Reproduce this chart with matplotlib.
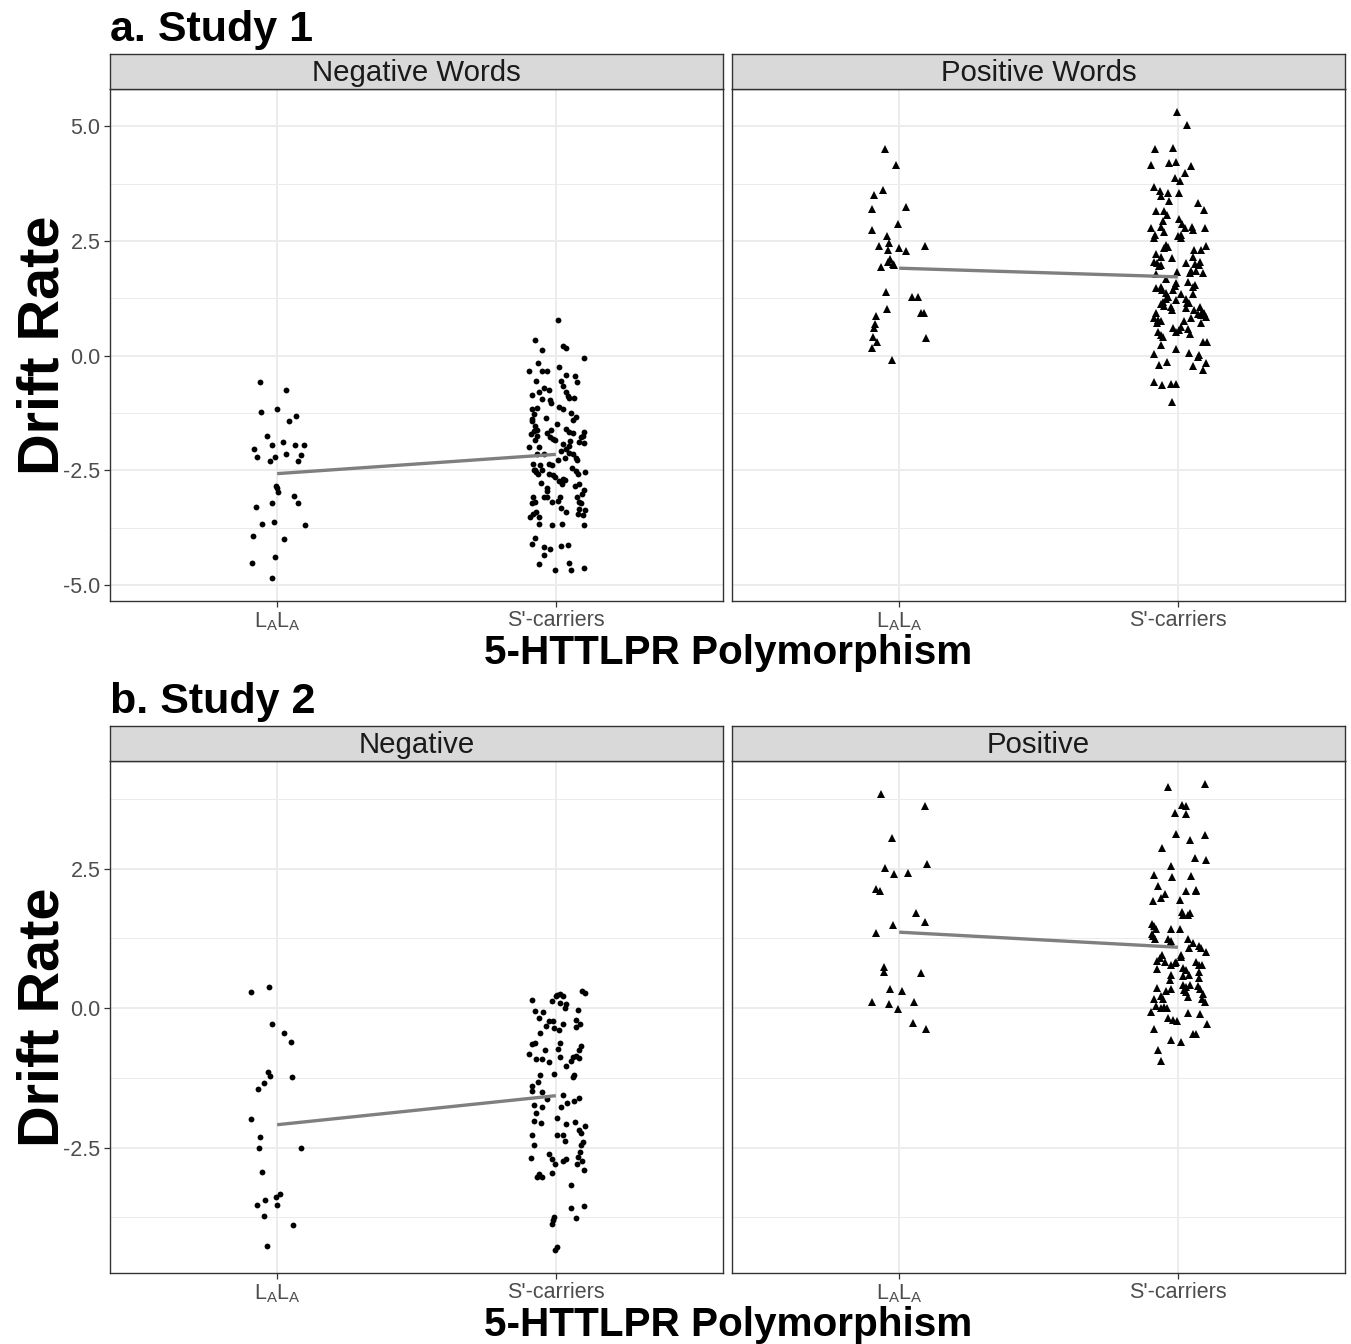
import matplotlib
matplotlib.use("Agg")
import matplotlib.pyplot as plt
import numpy as np

plt.rcParams['font.family'] = ['Liberation Sans', 'DejaVu Sans']
plt.rcParams['mathtext.fontset'] = 'custom'
plt.rcParams['mathtext.rm'] = 'Liberation Sans'
plt.rcParams['mathtext.it'] = 'Liberation Sans'

# ---------------- data ----------------
categories = [r'$\mathrm{L_AL_A}$', "S'-carriers"]
study_titles = ["a. Study 1", "b. Study 2"]
facet_labels = [["Negative Words", "Positive Words"], ["Negative", "Positive"]]
x_title = "5-HTTLPR Polymorphism"
y_title = "Drift Rate"
y_ticks_s1 = [-5.0, -2.5, 0.0, 2.5, 5.0]
y_ticks_s2 = [-2.5, 0.0, 2.5]

# Study 1, negative words
s1_neg_la_y = [-0.57, -0.75, -1.23, -1.15, -1.31, -1.42, -1.76, -1.95, -1.88, -1.94, -1.95, -2.04, -2.20,
               -2.20, -2.15, -2.17, -2.30, -2.30, -2.83, -2.89, -2.98, -3.06, -3.20, -3.21, -3.30, -3.66,
               -3.62, -3.68, -3.93, -3.99, -4.39, -4.51, -4.84]
s1_neg_la_jit = [-0.062, 0.033, -0.059, 0.000, 0.067, 0.044, -0.036, -0.017, 0.021, 0.064, 0.096, -0.083,
                 -0.074, -0.007, 0.031, 0.084, -0.024, 0.073, -0.006, 0.001, 0.004, 0.061, -0.017, 0.076,
                 -0.077, -0.055, -0.011, 0.100, -0.087, 0.025, -0.008, -0.092, -0.018]
s1_neg_s_y = [0.77, 0.35, 0.12, 0.21, 0.16, -0.04, -0.16, -0.33, -0.33, -0.33, -0.24, -0.43, -0.45, -0.57,
              -0.55, -0.56, -0.65, -0.70, -0.74, -0.80, -0.86, -0.78, -0.87, -0.92, -0.93, -0.94, -0.96,
              -1.03, -1.12, -1.15, -1.15, -1.13, -1.25, -1.33, -1.39, -1.28, -1.37, -1.43, -1.35, -1.49,
              -1.54, -1.62, -1.65, -1.62, -1.59, -1.67, -1.68, -1.67, -1.74, -1.78, -1.70, -1.74, -1.83,
              -1.68, -1.78, -1.81, -1.84, -1.92, -1.97, -1.86, -1.88, -1.90, -1.99, -1.99,
              -2.08, -2.04, -2.12, -2.15, -2.22, -2.28, -2.15, -2.15, -2.22, -2.28, -2.35, -2.38, -2.35,
              -2.38, -2.44, -2.51, -2.58, -2.54, -2.50, -2.53, -2.58, -2.48, -2.49, -2.57, -2.61, -2.65,
              -2.73, -2.68, -2.70, -2.80, -2.77, -2.88, -2.95, -2.83, -2.80, -2.93, -3.02, -3.09, -3.07,
              -3.07, -3.22, -3.18, -3.18, -3.17, -3.07, -3.07, -3.19, -3.22, -3.33, -3.40, -3.35, -3.36,
              -3.46, -3.48, -3.41, -3.46, -3.51, -3.51, -3.67, -3.70, -3.67, -3.68, -3.97, -4.11, -4.18,
              -4.22, -4.35, -4.15, -4.13, -4.53, -4.52, -4.67, -4.63, -4.67]
s1_neg_s_jit = [0.008, -0.073, -0.049, 0.026, 0.038, 0.100, -0.064, -0.095, -0.048, -0.032, 0.011, 0.036,
                0.068, 0.077, -0.072, 0.018, 0.026, -0.042, -0.024, -0.062, -0.087, 0.036, 0.042, 0.046,
                0.064, -0.048, -0.021, -0.018, 0.010, 0.024, -0.084, -0.066, 0.056, 0.074, 0.060, -0.078,
                -0.084, -0.086, -0.036, 0.004, -0.074, -0.069, -0.080, -0.018, 0.036, 0.046, 0.062, 0.102,
                0.098, 0.091, -0.090, -0.066, -0.074, -0.033, -0.021, -0.010, -0.003, 0.026, 0.046, 0.050,
                0.083, 0.101, -0.095, -0.060,
                0.019, 0.038, 0.048, 0.062, 0.072, 0.077, -0.066, -0.044, 0.033, 0.008, -0.082, -0.056,
                -0.026, -0.014, 0.058, 0.072, 0.080, 0.104, -0.080, -0.072, -0.065, -0.074, -0.048, -0.024,
                -0.010, -0.004, 0.012, 0.024, 0.033, 0.022, -0.053, -0.032, -0.030, 0.069, 0.084, 0.102,
                0.094, -0.044, -0.032, -0.082, -0.087, -0.074, -0.014, 0.008, 0.015, 0.076, 0.082, 0.091,
                0.019, 0.038, 0.084, 0.104, 0.078, 0.098, -0.072, -0.082, -0.092, -0.060, -0.061, -0.015,
                0.022, 0.101, -0.074, -0.087, -0.044, -0.022, -0.042, 0.018, 0.042, -0.060, 0.048, 0.054,
                0.102, -0.004]

# Study 1, positive words
s1_pos_la_y = [4.50, 4.15, 3.62, 3.51, 3.21, 3.25, 2.88, 2.75, 2.61, 2.47, 2.40, 2.36, 2.40, 2.30, 2.28,
               2.11, 2.04, 2.01, 1.98, 1.93, 1.40, 1.28, 1.29, 1.03, 0.93, 0.93, 0.87, 0.69, 0.60, 0.42,
               0.29, 0.39, 0.18, -0.09]
s1_pos_la_jit = [-0.050, -0.012, -0.059, -0.089, -0.096, 0.025, -0.005, -0.098, -0.042, -0.038, -0.074,
                 0.000, 0.091, -0.040, 0.026, -0.032, -0.040, -0.023, -0.017, -0.066, -0.049, 0.047, 0.069,
                 -0.044, 0.078, 0.090, -0.084, -0.086, -0.092, -0.095, -0.078, 0.096, -0.098, -0.025]
s1_pos_s_y = [5.31, 5.04, 4.50, 4.54, 4.17, 4.21, 4.22, 4.14, 3.99, 3.88, 3.81, 3.69, 3.59, 3.48, 3.56,
              3.54, 3.38, 3.34, 3.17, 3.15, 3.16, 3.08, 2.99, 2.94, 2.87, 2.78, 2.80, 2.78, 2.70, 2.81,
              2.74, 2.78, 2.63, 2.57, 2.61, 2.64, 2.56, 2.41, 2.38, 2.34, 2.40, 2.30, 2.30, 2.21, 2.16,
              2.13, 2.15,
              2.05, 2.03, 1.98, 1.96, 2.03, 2.01, 2.05, 1.98, 1.85, 1.80, 1.85, 1.80, 1.83, 1.78, 1.67,
              1.59, 1.52, 1.61, 1.54, 1.51, 1.47, 1.49, 1.43, 1.43, 1.36, 1.29, 1.23, 1.34, 1.34, 1.22,
              1.23, 1.16, 1.14, 1.18, 1.12, 1.09, 1.06, 1.00, 1.04, 1.00, 1.07, 0.96, 0.93, 0.91, 0.89,
              0.85, 0.93, 0.82, 0.78, 0.71, 0.76, 0.82, 0.75, 0.71, 0.60, 0.62, 0.57, 0.51, 0.58, 0.48,
              0.51, 0.46, 0.41, 0.29, 0.31, 0.24, 0.15, 0.04, 0.06, 0.02, -0.03, -0.20, -0.14, -0.16,
              -0.22, -0.32, -0.58, -0.63, -0.62, -0.61, -1.01]
s1_pos_s_jit = [-0.003, 0.033, -0.083, -0.019, -0.097, -0.033, -0.007, 0.047, 0.025, -0.011, 0.007, -0.085,
                -0.065, -0.060, -0.037, 0.006, -0.033, 0.073, 0.095, -0.077, -0.051, -0.038, 0.006, -0.053,
                0.015, 0.025, -0.062, -0.096, -0.050, 0.051, 0.055, 0.097, -0.083, -0.086, -0.001, 0.013,
                0.011, -0.043, -0.035, -0.048, 0.100, 0.082, 0.058, -0.077, -0.062, -0.021, 0.055,
                -0.086, -0.074, -0.059, -0.067, 0.031, 0.061, 0.079, 0.077, 0.049, 0.043, 0.067, 0.089,
                -0.003, -0.079, -0.041, -0.007, -0.011, 0.035, 0.061, 0.055, -0.079, -0.062, -0.055,
                -0.019, -0.041, -0.035, -0.041, 0.013, 0.053, -0.007, 0.028, 0.033, 0.041, -0.053, -0.062,
                -0.050, -0.025, -0.021, 0.029, 0.058, 0.079, 0.085, 0.094, 0.073, 0.082, 0.101, -0.079,
                -0.085, -0.071, -0.074, -0.062, 0.049, 0.022, 0.083, -0.017, 0.013, 0.005, -0.007, 0.037,
                0.043, -0.071, -0.059, -0.053, 0.091, 0.103, -0.059, -0.008, -0.086, 0.041, 0.077, 0.073,
                -0.068, -0.038, 0.101, 0.055, 0.089, -0.086, -0.056, -0.023, -0.008, -0.021]

# Study 2, negative
s2_neg_la_y = [0.28, 0.375, -0.29, -0.45, -0.60, -1.14, -1.21, -1.24, -1.35, -1.45, -1.99, -2.31, -2.51,
               -2.51, -2.94, -3.33, -3.38, -3.44, -3.52, -3.53, -3.72, -3.89, -4.27]
s2_neg_la_jit = [-0.094, -0.029, -0.018, 0.026, 0.050, -0.033, -0.025, 0.054, -0.047, -0.069, -0.094,
                 -0.062, -0.067, 0.087, -0.056, 0.010, -0.004, -0.043, -0.073, 0.001, -0.049, 0.056, -0.036]
s2_neg_s_y = [0.23, 0.26, 0.21, 0.21, 0.30, 0.27, 0.14, 0.125, 0.095, 0.08, 0.005, -0.05, -0.07, -0.03,
              -0.18, -0.23, -0.24, -0.21, -0.29, -0.32, -0.35, -0.39, -0.29, -0.34, -0.44, -0.62, -0.65,
              -0.63, -0.68, -0.76, -0.73, -0.76, -0.82, -0.91, -0.91, -0.88, -0.87, -0.86, -0.94, -0.90,
              -0.97, -1.03, -1.18, -1.20, -1.20, -1.24, -1.33, -1.39, -1.48, -1.51, -1.63, -1.56, -1.73,
              -1.78, -1.78, -1.70, -1.67, -1.62,
              -1.88, -2.03, -2.06, -1.97, -2.08, -2.04, -2.18, -2.23, -2.12, -2.27, -2.45, -2.28, -2.27,
              -2.375, -2.40, -2.45, -2.57, -2.68, -2.61, -2.70, -2.79, -2.74, -2.70, -2.67, -2.74, -2.79,
              -2.91, -2.98, -3.03, -3.03, -2.95, -3.17, -3.59, -3.54, -3.77, -3.74, -3.80, -3.875, -4.28,
              -4.33]
s2_neg_s_jit = [0.004, 0.015, 0.024, 0.000, 0.094, 0.104, -0.086, -0.012, 0.015, 0.036, 0.032, -0.073,
                -0.047, 0.078, -0.062, -0.024, -0.011, 0.072, 0.024, -0.036, -0.006, 0.012, 0.086, 0.072,
                -0.056, -0.076, -0.084, 0.015, 0.092, 0.082, 0.008, -0.040, -0.096, -0.072, -0.050, 0.015,
                0.060, 0.072, 0.054, 0.084, -0.024, 0.038, -0.006, -0.056, 0.066, 0.060, -0.064, -0.084,
                -0.086, -0.051, -0.030, 0.026, -0.080, -0.048, 0.018, 0.040, 0.066, 0.084,
                -0.072, -0.078, -0.054, 0.004, 0.037, 0.068, 0.084, 0.090, 0.104, -0.084, -0.080, 0.003,
                0.024, 0.033, 0.096, 0.090, 0.085, -0.090, -0.024, -0.015, -0.003, 0.024, 0.036, 0.080,
                0.094, 0.076, 0.102, -0.060, -0.066, -0.048, -0.015, 0.054, 0.056, 0.102, 0.072, -0.006,
                -0.010, -0.014, 0.006, -0.003]

# Study 2, positive
s2_pos_la_y = [3.83, 3.625, 3.04, 2.51, 2.40, 2.42, 2.58, 2.14, 2.09, 1.70, 1.55, 1.49, 1.35, 0.74, 0.65,
               0.63, 0.35, 0.31, 0.11, 0.08, 0.11, -0.02, -0.26, -0.37]
s2_pos_la_jit = [-0.066, 0.094, -0.026, -0.050, -0.018, 0.033, 0.100, -0.083, -0.068, 0.061, 0.091, -0.023,
                 -0.084, -0.056, -0.056, 0.077, -0.033, 0.010, -0.098, -0.035, 0.054, -0.003, 0.048, 0.097]
s2_pos_s_y = [3.97, 4.01, 3.64, 3.625, 3.49, 3.48, 3.12, 3.02, 3.10, 2.87, 2.69, 2.66, 2.54, 2.39, 2.34,
              2.36, 2.18, 2.09, 2.12, 2.09, 2.04, 1.97, 1.91, 1.94, 1.72, 1.66, 1.70, 1.66, 1.51,
              1.47, 1.42, 1.41, 1.41, 1.30, 1.23, 1.33, 1.24, 1.20, 1.14, 1.23, 1.17, 1.08, 1.11, 1.07,
              1.01, 0.95, 0.92, 0.95, 0.90, 0.83, 0.84, 0.77, 0.80, 0.82, 0.83, 0.77, 0.78, 0.70, 0.71,
              0.68, 0.65, 0.60, 0.58, 0.59, 0.54, 0.50, 0.41, 0.38, 0.42, 0.39, 0.34, 0.36, 0.30, 0.35,
              0.32, 0.28, 0.20, 0.26, 0.17, 0.10, 0.22, 0.16, 0.17, 0.04, 0.01, 0.02, 0.005, -0.07,
              -0.095, -0.11, -0.17, -0.21, -0.24, -0.29, -0.38, -0.47, -0.47, -0.57, -0.60, -0.75, -0.95]
s2_pos_s_jit = [-0.035, 0.097, 0.015, 0.028, -0.011, 0.031, -0.008, 0.043, 0.097, -0.056, 0.061, 0.100,
                -0.025, -0.086, -0.021, 0.047, -0.071, 0.028, 0.064, 0.067, -0.047, -0.062, -0.089, 0.007,
                0.015, 0.019, 0.043, 0.037, -0.092,
                -0.085, -0.077, -0.026, 0.007, -0.089, -0.083, -0.091, -0.035, -0.026, -0.023, 0.037,
                0.053, 0.041, 0.077, 0.083, 0.101, 0.010, 0.013, -0.056, -0.065, -0.047, -0.074, -0.023,
                -0.011, -0.005, 0.067, 0.077, 0.085, -0.074, 0.019, 0.031, 0.076, -0.023, 0.017, 0.041,
                0.077, -0.029, 0.019, 0.028, 0.043, 0.073, 0.079, -0.074, -0.041, -0.026, 0.023, 0.031,
                0.037, 0.091, 0.085, 0.097, -0.062, -0.053, -0.086, -0.077, -0.062, -0.050, -0.038,
                -0.098, 0.035, 0.079, -0.035, -0.017, -0.003, 0.103, -0.085, 0.055, 0.067, -0.023, 0.010,
                -0.071, -0.061]

# fitted line values (LALA, S'-carriers)
s1_neg_fit = [-2.57, -2.15]
s1_pos_fit = [1.91, 1.72]
s2_neg_fit = [-2.09, -1.57]
s2_pos_fit = [1.36, 1.09]

# ---------------- figure ----------------
W, H = 1351, 1344
fig = plt.figure(figsize=(W / 100, H / 100), dpi=100)

def px_axes(l, t, r, b):
    return fig.add_axes([l / W, 1 - b / H, (r - l) / W, (b - t) / H])

border_col = '#333333'
grid_col = '#EBEBEB'
tick_col = '#4D4D4D'

rows = [
    dict(title=study_titles[0], t=89, b=601, st=54, ticks=y_ticks_s1,
         panels=[(s1_neg_la_y, s1_neg_la_jit, s1_neg_s_y, s1_neg_s_jit, s1_neg_fit, 'o'),
                 (s1_pos_la_y, s1_pos_la_jit, s1_pos_s_y, s1_pos_s_jit, s1_pos_fit, '^')],
         labels=facet_labels[0], title_y=41, xt_y=664),
    dict(title=study_titles[1], t=761, b=1273, st=726, ticks=y_ticks_s2,
         panels=[(s2_neg_la_y, s2_neg_la_jit, s2_neg_s_y, s2_neg_s_jit, s2_neg_fit, 'o'),
                 (s2_pos_la_y, s2_pos_la_jit, s2_pos_s_y, s2_pos_s_jit, s2_pos_fit, '^')],
         labels=facet_labels[1], title_y=713, xt_y=1336),
]
cols = [(110, 723), (732, 1345)]

for row in rows:
    # shared y range across both facets
    all_y = np.concatenate([np.asarray(v, float) for p in row['panels'] for v in (p[0], p[2])])
    lo, hi = all_y.min(), all_y.max()
    pad = 0.05 * (hi - lo)
    ylim = (lo - pad, hi + pad)
    major = np.asarray(row['ticks'])
    step = major[1] - major[0]
    minor = np.arange(major[0] - step * 2 - step / 2, major[-1] + step * 2, step)
    minor = minor[(minor > ylim[0]) & (minor < ylim[1])]

    for ci, (panel, (l, r)) in enumerate(zip(row['panels'], cols)):
        la_y, la_j, s_y, s_j, fit, mk = panel
        assert len(la_y) == len(la_j) and len(s_y) == len(s_j)
        ax = px_axes(l, row['t'], r, row['b'])
        ax.set_xlim(0.4, 2.6)
        ax.set_ylim(*ylim)
        for m in minor:
            ax.axhline(m, color=grid_col, lw=0.7, zorder=0)
        for m in major:
            ax.axhline(m, color=grid_col, lw=1.3, zorder=0)
        for xc in (1, 2):
            ax.axvline(xc, color=grid_col, lw=1.3, zorder=0)
        ms = 4.2 if mk == 'o' else 5.2
        ax.plot(1 + np.asarray(la_j), la_y, linestyle='none', marker=mk, ms=ms, color='black',
                markeredgewidth=0, zorder=3)
        ax.plot(2 + np.asarray(s_j), s_y, linestyle='none', marker=mk, ms=ms, color='black',
                markeredgewidth=0, zorder=3)
        ax.plot([1, 2], fit, color='#7F7F7F', lw=2.4, zorder=4, solid_capstyle='butt')
        ax.set_xticks([1, 2])
        ax.set_xticklabels(categories)
        ax.set_yticks(major)
        if ci == 0:
            ax.set_yticklabels([f"{v:.1f}" for v in major])
        else:
            ax.set_yticklabels([])
        ax.tick_params(axis='both', colors=border_col, labelcolor=tick_col, labelsize=15.5,
                       length=4, width=0.9, direction='out')
        ax.tick_params(axis='x', pad=2.5)
        ax.tick_params(axis='y', pad=3)
        if ci == 1:
            ax.tick_params(axis='y', length=0)
        for sp in ax.spines.values():
            sp.set_color(border_col)
            sp.set_linewidth(1.0)
        ax.set_facecolor('white')

        # strip
        sax = px_axes(l, row['st'], r, row['t'])
        sax.set_facecolor('#D9D9D9')
        sax.set_xticks([]); sax.set_yticks([])
        for sp in sax.spines.values():
            sp.set_color(border_col)
            sp.set_linewidth(1.0)
        sax.text(0.5, 0.47, row['labels'][ci], ha='center', va='center', fontsize=21.2,
                 color='#1A1A1A', transform=sax.transAxes)

    # titles
    fig.text(110 / W, 1 - row['title_y'] / H, row['title'], fontsize=31, fontweight='bold',
             ha='left', va='baseline')
    fig.text(728.5 / W, 1 - row['xt_y'] / H, x_title, fontsize=29.2, fontweight='bold',
             ha='center', va='baseline')
    cy = (row['t'] + row['b']) / 2
    fig.text(59 / W, 1 - cy / H, y_title, fontsize=41.5, fontweight='bold', rotation=90,
             rotation_mode='anchor', ha='center', va='baseline')

fig.savefig('out.png', dpi=100, facecolor='white')
